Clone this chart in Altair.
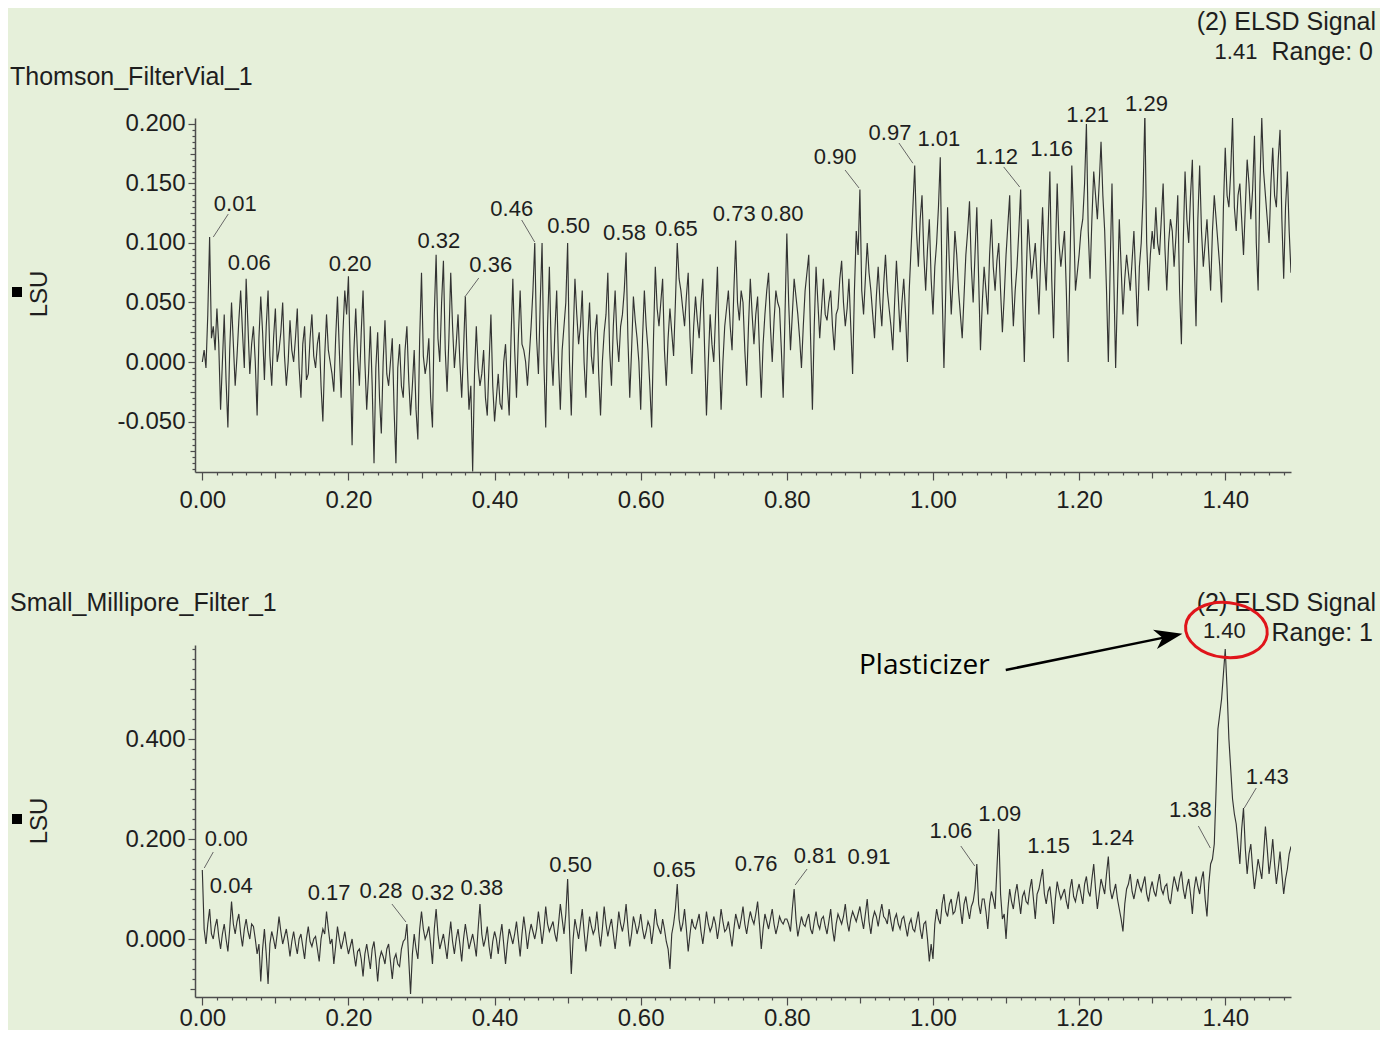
import altair as alt
import pandas as pd

FONT = "Liberation Sans"
TXT = "#1e1e1e"
AXC = "#4d4d4d"
BG = "#e6f0da"
TRACE = "#333333"

# ---------------- data ----------------
# detector sampled every 0.0025 min starting at 0.000 min; values in milli-LSU
t_start = 0.0
t_step = 0.0025

top_signal_mlsu = [
    0, 10,
    -5, 40, 105, 20, 30, 10, 45, 15, -40, 0, 40, -15, -55, 10, 50, 15, -20, 5, 35, 60,
    25, -5, 70, 30, -10, 15, 30, 0, -45, 20, 55, 25, -15, 30, 60, 5, -20, 20, 45, 0,
    10, 25, 50, 5, -20, 0, 35, 10, 0, 20, 45, -5, -30, 15, 30, -15, -10, 20, 40, 5,
    -5, 15, 25, -20, -50, 5, 40, 10, 0, -10, -25, 20, 55, 10, -30, 25, 60, 40, 72, 0,
    -70, 10, 45, 5, -20, 25, 60, 0, -40, -10, 30, -20, -85, -5, 25, -30, -60, 0, 35, -10,
    -20, 0, 20, -40, -85, -5, 15, -20, -30, 10, 30, -15, -45, -20, 10, -40, -65, 20, 75, 5,
    -10, 0, 20, -30, -55, 40, 90, 20, 0, 50, 85, 10, -25, 20, 75, 30, -5, 15, 40, 0,
    -30, 10, 55, 0, -40, -20, -92, -10, 30, -5, -20, -10, 10, -30, -45, 0, 40, -20, -50, -30,
    -10, -35, -40, 0, 15, -20, -45, 20, 70, 10, -30, 20, 60, 15, 10, 0, -20, 5, 30, 60,
    100, 20, -10, 50, 100, 0, -55, 30, 80, 10, -20, 25, 60, 0, -40, 10, 30, 50, 100, 0,
    -45, 20, 70, 40, 15, 30, 60, 0, -30, 20, 50, 5, -10, 25, 40, -10, -45, 0, 25, 40,
    75, 10, -20, 30, 60, 20, 0, 30, 40, 60, 92, 20, -30, 10, 55, 35, 20, 0, -40, 20,
    60, 30, 10, -20, -55, 20, 80, 45, 30, 50, 70, 10, -20, 20, 45, 25, 5, 50, 100, 70,
    60, 45, 30, 55, 75, 20, -10, 30, 55, 35, 20, 50, 70, 10, -45, 0, 40, 15, 0, 40,
    80, 10, -40, 0, 30, 45, 60, 30, 10, 60, 102, 50, 35, 60, 50, 10, -20, 30, 70, 40,
    15, 40, 55, 10, -30, 15, 40, 60, 75, 30, 0, 35, 60, 50, 45, 10, -30, 40, 108, 50,
    10, 40, 70, 55, 40, 20, -5, 30, 60, 75, 90, 20, -40, 30, 80, 50, 20, 45, 70, 40,
    35, 50, 60, 30, 10, 40, 45, 70, 85, 50, 30, 45, 70, 30, -10, 60, 110, 90, 145, 60,
    40, 70, 100, 75, 60, 40, 20, 55, 80, 50, 30, 65, 90, 60, 45, 30, 10, 50, 85, 55,
    25, 50, 70, 40, 0, 60, 95, 130, 165, 110, 80, 120, 140, 90, 60, 95, 120, 70, 40, 80,
    100, 130, 172, 60, -5, 60, 130, 80, 40, 70, 110, 90, 60, 40, 20, 55, 90, 110, 135, 80,
    50, 90, 130, 70, 10, 50, 80, 60, 40, 90, 120, 80, 60, 85, 100, 60, 25, 55, 90, 115,
    140, 70, 30, 60, 80, 110, 145, 60, 0, 70, 120, 95, 70, 85, 100, 70, 40, 90, 130, 85,
    60, 110, 160, 70, 20, 90, 150, 100, 80, 95, 110, 60, 0, 80, 165, 120, 60, 75, 90, 110,
    120, 150, 200, 110, 70, 120, 160, 140, 120, 150, 185, 140, 110, 60, 0, 80, 150, 70, -5, 60,
    120, 80, 40, 70, 90, 75, 60, 85, 110, 70, 30, 80, 100, 140, 210, 100, 60, 90, 110, 95,
    130, 100, 90, 120, 150, 95, 60, 100, 120, 110, 80, 105, 140, 60, 15, 100, 160, 120, 100, 140,
    170, 90, 30, 120, 165, 110, 80, 100, 120, 90, 60, 110, 140, 120, 100, 80, 50, 130, 180, 140,
    130, 160, 205, 130, 110, 140, 150, 120, 90, 130, 170, 150, 120, 145, 190, 100, 60, 150, 205, 160,
    140, 120, 100, 150, 180, 140, 130, 170, 195, 120, 70, 130, 160, 110, 75,
]

bottom_signal_mlsu = [
    138, 20, -10, 30, 60, 10, 0, 25, 40, 5, -20, 10, 30, 0, -25, 20, 75, 30, 10, 35,
    50, 10, -15, 20, 40, 15, 0, 30, 25, 0, -30, -10, -85, -20, 20, -30, -90, -10, 15, 0,
    -20, 10, 45, 15, -10, 5, 20, -5, -35, -5, 15, -10, -30, 0, 10, -15, -40, 0, 25, -5,
    -15, 0, 5, -20, -45, 0, 20, 10, 55, 20, -10, 0, -50, -15, 25, 0, -20, -5, 15, -10,
    -30, -15, 0, -30, -55, -25, -20, -40, -75, -30, -10, -35, -60, -20, -5, -40, -85, -40, -25, -35,
    -50, -20, -10, -45, -80, -40, -30, -50, -55, -20, -5, 0, 30, -40, -110, -30, 10, -20, -40, 20,
    55, 20, 0, 10, 25, -10, -50, 20, 60, 10, -20, -5, 10, -15, -40, 0, 35, -5, -30, 0,
    20, -10, -45, 0, 30, 5, -20, -5, 10, -10, -35, 20, 70, 10, -15, 0, 25, -15, -40, -5,
    15, 0, -30, 5, 30, -10, -50, -10, 20, 5, -10, 10, 35, 0, -35, 10, 45, 15, -20, 10,
    30, 15, 0, 20, 55, 25, -10, 20, 65, 30, 15, 25, 35, 10, -5, 30, 70, 40, 10, 50,
    120, 20, -70, 0, 40, 20, 0, 30, 60, 15, -25, 10, 45, 25, 10, 20, 55, 15, -15, 20,
    65, 30, 5, 25, 40, 10, -20, 15, 55, 30, 15, 35, 70, 25, -15, 10, 45, 30, 10, 25,
    50, 20, 0, 15, 35, 25, -10, 20, 60, 30, 20, 10, 40, 20, -5, -20, -60, 10, 30, 60,
    110, 40, 15, 30, 60, 20, -25, 10, 40, 25, 20, 35, 50, 15, -10, 20, 55, 30, 15, 25,
    45, 30, 0, 25, 60, 35, 15, 20, 35, 10, -15, 20, 50, 35, 20, 40, 65, 30, 10, 35,
    55, 40, 30, 50, 75, 30, -20, 20, 50, 35, 20, 40, 60, 30, 10, 25, 45, 35, 30, 40,
    40, 30, 15, 60, 100, 40, 5, 25, 45, 30, 25, 40, 50, 20, 10, 35, 55, 30, 20, 40,
    45, 25, 10, 35, 60, 20, -5, 30, 50, 40, 30, 45, 70, 35, 15, 40, 55, 45, 35, 50,
    65, 40, 20, 50, 80, 35, 10, 40, 55, 45, 25, 50, 70, 45, 40, 30, 60, 35, 15, 40,
    50, 30, 20, 40, 45, 25, 5, 30, 40, 20, 15, 35, 55, 20, 0, 30, 35, 0, -45, -10,
    -40, 30, 60, 40, 30, 70, 90, 55, 45, 70, 80, 50, 55, 75, 95, 60, 30, 70, 85, 60,
    40, 65, 75, 100, 150, 70, 50, 80, 80, 55, 20, 70, 95, 80, 60, 140, 220, 90, 40, 50,
    0, 60, 100, 75, 60, 90, 110, 80, 50, 85, 95, 75, 70, 100, 120, 80, 40, 90, 100, 120,
    140, 90, 70, 95, 105, 70, 30, 80, 115, 95, 80, 90, 100, 75, 60, 100, 120, 85, 75, 95,
    110, 90, 70, 110, 125, 95, 85, 120, 150, 100, 60, 90, 120, 105, 90, 130, 165, 100, 80, 95,
    110, 80, 60, 40, 15, 70, 100, 110, 130, 95, 80, 100, 120, 105, 95, 110, 125, 90, 75, 100,
    115, 95, 85, 110, 130, 100, 90, 105, 110, 80, 70, 100, 125, 110, 95, 120, 135, 100, 80, 105,
    120, 90, 50, 100, 125, 105, 90, 120, 135, 80, 45, 110, 150, 160, 190, 300, 420, 450, 480, 530,
    580, 500, 400, 340, 280, 250, 230, 190, 150, 220, 262, 180, 130, 170, 190, 140, 100, 130, 160, 140,
    120, 170, 225, 180, 130, 160, 200, 150, 110, 140, 175, 130, 90, 120, 140, 170, 185,
]

# peak labels (retention time text) and where they sit (min, LSU)
top_peak_text = ["0.01", "0.06", "0.20", "0.32", "0.36", "0.46", "0.50", "0.58", "0.65",
                 "0.73", "0.80", "0.90", "0.97", "1.01", "1.12", "1.16", "1.21", "1.29", "1.41"]
top_label_t = [0.0451, 0.0642, 0.2022, 0.3237, 0.3948, 0.4235, 0.5013, 0.5778, 0.6488,
               0.7280, 0.7936, 0.8661, 0.9412, 1.0080, 1.0872, 1.1624, 1.2116, 1.2922, 1.4147]
top_label_v = [0.1328, 0.0832, 0.0824, 0.1017, 0.0815, 0.1286, 0.1145, 0.1087, 0.1120,
               0.1244, 0.1244, 0.1723, 0.1924, 0.1874, 0.1723, 0.1790, 0.2076, 0.2168, 0.2605]
top_leader_t1 = [0.0355, 0.3784, 0.4371, 0.8797, 0.9534, 1.0968]
top_leader_v1 = [0.1243, 0.0706, 0.1193, 0.1613, 0.1840, 0.1639]
top_leader_t2 = [0.0150, 0.3592, 0.4549, 0.8988, 0.9725, 1.1187]
top_leader_v2 = [0.1050, 0.0546, 0.1008, 0.1462, 0.1670, 0.1470]

bottom_peak_text = ["0.00", "0.04", "0.17", "0.28", "0.32", "0.38", "0.50", "0.65", "0.76",
                    "0.81", "0.91", "1.06", "1.09", "1.15", "1.24", "1.38", "1.40", "1.43"]
bottom_label_t = [0.0328, 0.0396, 0.1735, 0.2445, 0.3155, 0.3825, 0.5040, 0.6460, 0.7580,
                  0.8387, 0.9124, 1.0245, 1.0914, 1.1583, 1.2457, 1.3523, 1.3987, 1.4575]
bottom_label_v = [0.200, 0.106, 0.092, 0.096, 0.092, 0.102, 0.148, 0.138, 0.150,
                  0.166, 0.164, 0.216, 0.250, 0.186, 0.202, 0.258, 0.616, 0.324]
bottom_leader_t1 = [0.0150, 0.2595, 0.8277, 1.0381, 1.3632, 1.4424]
bottom_leader_v1 = [0.174, 0.070, 0.140, 0.186, 0.226, 0.302]
bottom_leader_t2 = [0.0027, 0.2787, 0.8114, 1.0572, 1.3796, 1.4260]
bottom_leader_v2 = [0.142, 0.034, 0.108, 0.146, 0.182, 0.262]

# annotation: plasticizer call-out (min, LSU)
note_text = ["Plasticizer"]
note_t = [0.8988]
note_v = [0.546]
arrow_t = [1.0996]
arrow_v = [0.538]
arrow_head_t = [1.3226]
arrow_head_v = [0.6048]
circle_t = [1.4016]
circle_v = [0.618]

# axis ticks
x_ticks = [round(i * 0.02, 2) for i in range(75)]
top_y_ticks = [round(-0.09 + i * 0.005, 3) for i in range(59)]
bottom_y_ticks = [round(-0.10 + i * 0.02, 2) for i in range(35)]

X_DOMAIN = [-0.01, 1.49]
W = 1096
MINUS = "\u2212"


def mult(k):
    return f"abs(datum.value*{k} - round(datum.value*{k})) < 0.0001"


def x_axis(pad):
    return alt.Axis(
        values=x_ticks, title=None, grid=False,
        labelExpr=f"{mult(5)} ? format(datum.value, '.2f') : ''",
        labelOverlap=False, labelFlush=False,
        labelFont=FONT, labelFontSize=24, labelColor=TXT, labelPadding=pad,
        domainColor=AXC, domainWidth=1.5, tickColor=AXC, tickWidth=1.2,
        tickSize={"condition": [{"test": mult(5), "value": 8},
                                {"test": mult(10), "value": 6}], "value": 3},
    )


def y_axis(values, major_k, mid_k, fmt_k):
    return alt.Axis(
        values=values, title=None, grid=False,
        labelExpr=f"{mult(fmt_k)} ? replace(format(datum.value, '.3f'), '{MINUS}', '-') : ''",
        labelOverlap=False, labelFlush=False,
        labelFont=FONT, labelFontSize=24, labelColor=TXT, labelPadding=3,
        domainColor=AXC, domainWidth=1.5, tickColor=AXC, tickWidth=1.2,
        tickSize={"condition": [{"test": mult(major_k), "value": 7},
                                {"test": mult(mid_k), "value": 5}], "value": 3},
    )


def txt(text, x, y, align="left", size=24, angle=0, font=FONT, color=TXT):
    return alt.Chart(pd.DataFrame({"s": [text]})).mark_text(
        align=align, baseline="middle", fontSize=size, font=font, color=color, angle=angle
    ).encode(text="s:N", x=alt.value(x), y=alt.value(y))


def panel(signal, ydom, yax, height, labels, lt, lv, l1t, l1v, l2t, l2v, xpad,
          title, range_text, title_y, header_y, extra=None):
    xs = alt.Scale(domain=X_DOMAIN, nice=False, zero=False)
    ys = alt.Scale(domain=ydom, nice=False, zero=False)
    xax = x_axis(xpad)

    def X(f):
        return alt.X(f, type="quantitative", scale=xs, axis=xax)

    def Y(f):
        return alt.Y(f, type="quantitative", scale=ys, axis=yax)

    times = [round(t_start + i * t_step, 4) for i in range(len(signal))]
    sig = pd.DataFrame({"t": times, "v": [s / 1000 for s in signal]})
    line = alt.Chart(sig).mark_line(color=TRACE, strokeWidth=1.15, clip=True).encode(
        x=X("t"), y=Y("v"))
    lab = alt.Chart(pd.DataFrame({"t": lt, "v": lv, "s": labels})).mark_text(
        font=FONT, fontSize=22, color=TXT, baseline="middle", align="center"
    ).encode(x=X("t"), y=Y("v"), text="s:N")
    lead = alt.Chart(pd.DataFrame({"t": l1t, "v": l1v, "t2": l2t, "v2": l2v})).mark_rule(
        color="#666666", strokeWidth=1
    ).encode(x=X("t"), y=Y("v"), x2="t2:Q", y2="v2:Q")
    layers = [line, lead, lab,
              txt(title, -185, title_y, size=25),
              txt("(2) ELSD Signal", 1181, header_y, align="right", size=25),
              txt(range_text, 1178, header_y + 30, align="right", size=25),
              txt("LSU", -155, 176, size=24, angle=270, align="center"),
              alt.Chart(pd.DataFrame({"s": ["LSU"]})).mark_point(
                  shape="square", filled=True, size=100, color="black", opacity=1
              ).encode(x=alt.value(-178), y=alt.value(174))]
    if extra:
        layers += extra(X, Y)
    return alt.layer(*layers).properties(width=W, height=height)


def plasticizer(X, Y):
    note = alt.Chart(pd.DataFrame({"t": note_t, "v": note_v, "s": note_text})).mark_text(
        font="Open Sans", fontSize=28, color="black", align="left", baseline="middle"
    ).encode(x=X("t"), y=Y("v"), text="s:N")
    arrow = alt.Chart(pd.DataFrame({"t": arrow_t, "v": arrow_v, "t2": arrow_head_t,
                                    "v2": arrow_head_v})).mark_rule(
        color="black", strokeWidth=2.5
    ).encode(x=X("t"), y=Y("v"), x2="t2:Q", y2="v2:Q")
    head = alt.Chart(pd.DataFrame({"t": arrow_head_t, "v": arrow_head_v})).mark_point(
        shape="M1,0L-1,-0.7L-0.45,0L-1,0.7Z", size=784, filled=True, color="black",
        opacity=1, angle=348.4
    ).encode(x=X("t"), y=Y("v"))
    ring = alt.Chart(pd.DataFrame({"t": circle_t, "v": circle_v})).mark_point(
        shape="M-1,0A1,0.67 0 1,1 1,0A1,0.67 0 1,1 -1,0Z", size=6724, filled=False,
        color="#e0151b", strokeWidth=3, opacity=1, angle=6
    ).encode(x=X("t"), y=Y("v"))
    return [arrow, head, note, ring]


top = panel(
    top_signal_mlsu, [-0.0924, 0.205], y_axis(top_y_ticks, 20, 40, 20), 354,
    top_peak_text, top_label_t, top_label_v,
    top_leader_t1, top_leader_v1, top_leader_t2, top_leader_v2, 8,
    "Thomson_FilterVial_1", "Range: 0", -41, -96,
)

bottom = panel(
    bottom_signal_mlsu, [-0.116, 0.588], y_axis(bottom_y_ticks, 5, 10, 5), 352,
    bottom_peak_text, bottom_label_t, bottom_label_v,
    bottom_leader_t1, bottom_leader_v1, bottom_leader_t2, bottom_leader_v2, 1,
    "Small_Millipore_Filter_1", "Range: 1", -42, -42, extra=plasticizer,
)

chart = alt.vconcat(top, bottom, spacing=79).properties(
    padding={"left": 2, "top": 2, "right": 4, "bottom": 0}
).configure(background=BG).configure_view(stroke=None)

chart.save("out.html", embed_options={"renderer": "svg", "actions": False})
